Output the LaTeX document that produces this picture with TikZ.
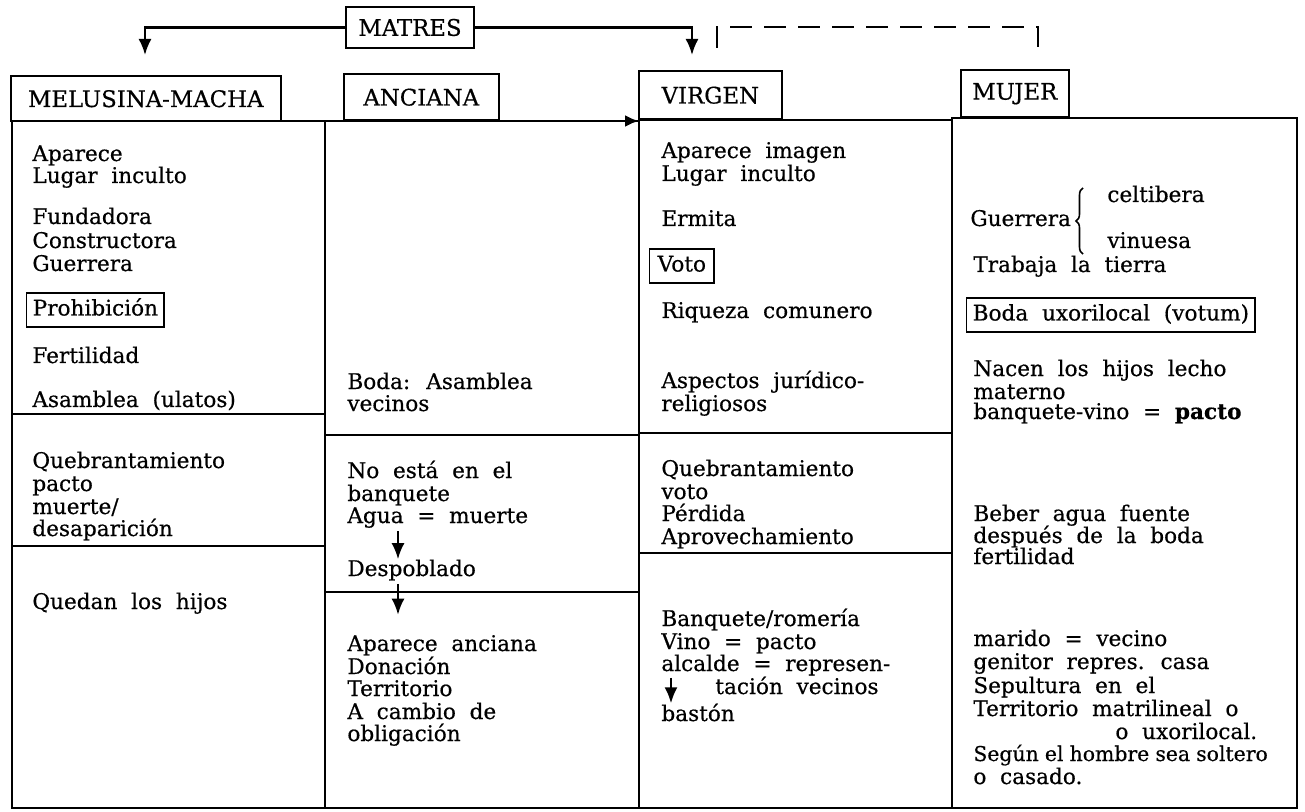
\documentclass[tikz,border=0pt]{standalone}
\usepackage{fontspec}
\setmainfont[WordSpace=2,FakeBold=0.5]{DejaVu Serif}
\usetikzlibrary{arrows.meta,calc,decorations.pathreplacing}
\newcommand\tx[4]{\node[txt] (#1) at (#2,#3) {#4};}
\begin{document}
\begin{tikzpicture}[x=0.5pt,y=-0.5pt,
  txt/.style={anchor=base west, inner sep=0pt, font=\fontsize{10.8}{13}\selectfont},
  boxed/.style={draw, line width=0.7pt, anchor=west, inner xsep=3pt, inner ysep=3.2pt, text height=8pt, text depth=2.5pt, font=\fontsize{10.8}{13}\selectfont},
  hdr/.style={draw, line width=0.8pt, inner sep=0pt, font=\fontsize{11.4}{13}\selectfont},
  col/.style={line width=1.4pt},
  divl/.style={line width=0.9pt},
  arr/.style={line width=1.1pt, -{Latex[length=8pt,width=6.5pt]}},
  dsh/.style={line width=0.9pt, dash pattern=on 11pt off 6pt}
]
\useasboundingbox (0,0) rectangle (1305,812);

% columns
\draw[col] (12,121) rectangle (325,808);
\draw[col] (325,121) rectangle (639,808);
\draw[col] (639,120) rectangle (952,808);
\draw[col] (952,118) rectangle (1297,808);
% dividers
\draw[divl] (12,414) -- (325,414);
\draw[divl] (12,546) -- (325,546);
\draw[divl] (325,435) -- (639,435);
\draw[divl] (325,592) -- (639,592);
\draw[divl] (639,433) -- (952,433);
\draw[divl] (639,553) -- (952,553);

% headers
\node[hdr, anchor=south west, minimum width=135pt, minimum height=22.5pt] (hmel) at (10,122) {MELUSINA-MACHA};
\node[hdr, anchor=south west, minimum width=77.5pt, minimum height=23pt] (hanc) at (343,121) {ANCIANA};
\node[hdr, anchor=south west, minimum width=71.5pt, minimum height=24pt] (hvir) at (638,120) {VIRGEN};
\node[hdr, anchor=south west, minimum width=54pt, minimum height=23.5pt] (hmuj) at (960,118) {MUJER};
\node[hdr, minimum width=64pt, minimum height=20.5pt] (matres) at (410,27.5) {MATRES};

% top connectors
\coordinate (tl) at (145,55);
\coordinate (tr) at (692,55);
\draw[arr] (matres.west) -| (tl);
\draw[arr] (matres.east) -| (tr);
\coordinate (dA) at (717,48);
\coordinate (dB) at (1038,48);
\draw[dsh] (dA) -- ++(0,-21) -| (dB);
\coordinate (topL) at (12,121);
\coordinate (c3in) at (639,121);
\draw[col, -{Latex[length=7pt,width=6pt]}] (topL) -- (c3in);

% column 1
\tx{c1a}{32}{161}{Aparece}
\tx{c1b}{32}{183}{Lugar inculto}
\tx{c1c}{32}{224}{Fundadora}
\tx{c1d}{32}{248}{Constructora}
\tx{c1e}{32}{271}{Guerrera}
\node[boxed] (c1f) at (26,310) {Prohibición};
\tx{c1g}{32}{363}{Fertilidad}
\tx{c1h}{32}{407}{Asamblea (ulatos)}
\tx{c1i}{32}{468}{Quebrantamiento}
\tx{c1j}{32}{491}{pacto}
\tx{c1k}{32}{514}{muerte/}
\tx{c1l}{32}{536}{desaparición}
\tx{c1m}{32}{609}{Quedan los hijos}

% column 2
\tx{c2a}{347}{389}{Boda: Asamblea}
\tx{c2b}{347}{411}{vecinos}
\tx{c2c}{347}{478}{No está en el}
\tx{c2d}{347}{501}{banquete}
\tx{c2e}{347}{523}{Agua = muerte}
\tx{c2f}{347}{576}{Despoblado}
\tx{c2g}{347}{651}{Aparece anciana}
\tx{c2h}{347}{674}{Donación}
\tx{c2i}{347}{696}{Territorio}
\tx{c2j}{347}{719}{A cambio de}
\tx{c2k}{347}{741}{obligación}
\draw[arr] ($(c2e.south west)+(51,3)$) -- ($(c2f.north west)+(51,0)$);
\draw[arr] ($(c2f.south west)+(51,3)$) -- ($(c2g.north west)+(51,-20)$);

% column 3
\tx{c3a}{661}{158}{Aparece imagen}
\tx{c3b}{661}{181}{Lugar inculto}
\tx{c3c}{661}{226}{Ermita}
\node[boxed, inner xsep=4pt] (c3d) at (649,266) {Voto};
\tx{c3e}{661}{318}{Riqueza comunero}
\tx{c3f}{661}{388}{Aspectos jurídico-}
\tx{c3g}{661}{411}{religiosos}
\tx{c3h}{661}{476}{Quebrantamiento}
\tx{c3i}{661}{499}{voto}
\tx{c3j}{661}{521}{Pérdida}
\tx{c3k}{661}{544}{Aprovechamiento}
\tx{c3l}{661}{626}{Banquete/romería}
\tx{c3m}{661}{649}{Vino = pacto}
\tx{c3n}{661}{671}{alcalde = represen-}
\tx{c3o}{715}{694}{tación vecinos}
\tx{c3p}{661}{721}{bastón}
\draw[arr] ($(c3n.south west)+(10,2)$) -- ($(c3p.north west)+(10,0)$);

% column 4
\tx{c4a}{970}{226}{Guerrera}
\tx{c4b}{1107}{202}{celtibera}
\tx{c4c}{1107}{248}{vinuesa}
\coordinate (brB) at (1083,254);
\coordinate (brT) at (1083,188);
\draw[line width=0.8pt, decorate, decoration={brace, amplitude=3.5pt}] (brB) -- (brT);
\tx{c4d}{973}{272}{Trabaja la tierra}
\node[boxed] (c4e) at (966,315) {Boda uxorilocal (votum)};
\tx{c4f}{973}{376}{Nacen los hijos lecho}
\tx{c4g}{973}{399}{materno}
\tx{c4h}{973}{419}{banquete-vino = \textbf{pacto}}
\tx{c4i}{973}{521}{Beber agua fuente}
\tx{c4j}{973}{543}{después de la boda}
\tx{c4k}{973}{564}{fertilidad}
\tx{c4l}{973}{646}{marido = vecino}
\tx{c4m}{973}{669}{genitor repres. casa}
\tx{c4n}{973}{693}{Sepultura en el}
\tx{c4o}{973}{716}{Territorio matrilineal o}
\tx{c4p}{1115}{739}{o uxorilocal.}
\node[txt, font=\fontsize{10.2}{13}\selectfont] (c4q) at (973,761) {\spaceskip=0.3em\relax Según el hombre sea soltero};
\tx{c4r}{973}{784}{o casado.}
\end{tikzpicture}
\end{document}
